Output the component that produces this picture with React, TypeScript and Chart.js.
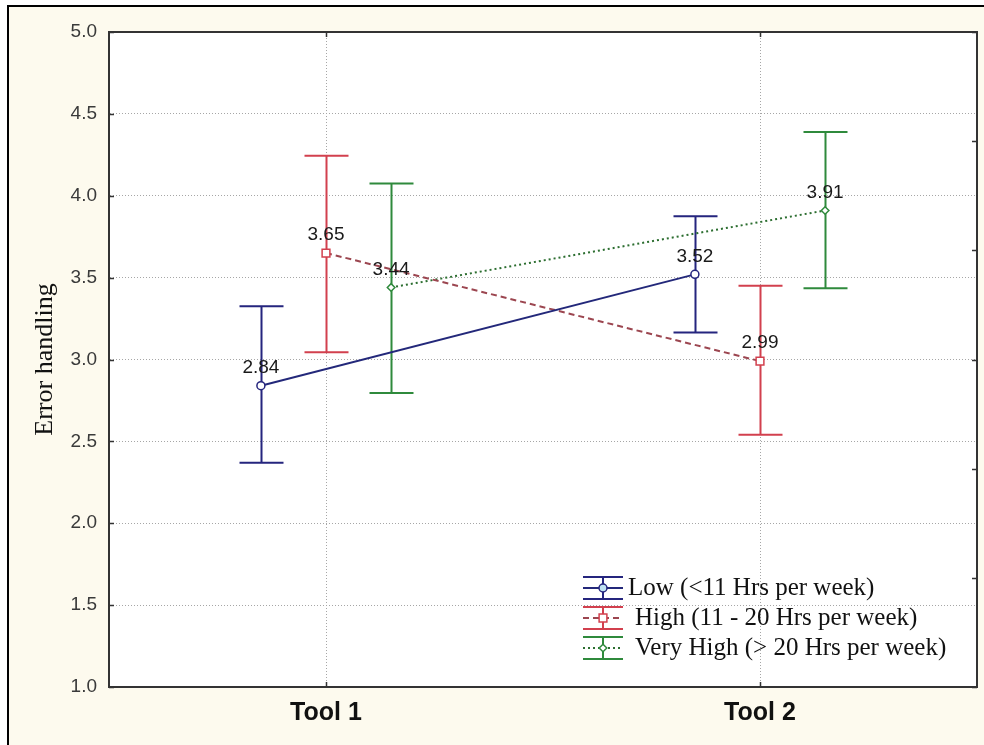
import React, { useEffect, useRef } from "react";
import { Chart, registerables } from "chart.js";

Chart.register(...registerables);

// ---- data ----
const categories = ["Tool 1", "Tool 2"];
const seriesNames = [
  "Low (<11 Hrs per week)",
  "High (11 - 20 Hrs per week)",
  "Very High (> 20 Hrs per week)",
];
const lowMeans = [2.84, 3.52];
const lowUpper = [3.325, 3.875];
const lowLower = [2.37, 3.165];
const highMeans = [3.65, 2.99];
const highUpper = [4.245, 3.45];
const highLower = [3.045, 2.54];
const veryHighMeans = [3.44, 3.91];
const veryHighUpper = [4.075, 4.39];
const veryHighLower = [2.795, 3.435];
const yMin = 1.0;
const yMax = 5.0;
const yStep = 0.5;
const yTitle = "Error handling";

// ---- styling ----
const groupOffsets = [-0.15, 0, 0.15];
const barColors = ["#25257e", "#d2404e", "#2f8a3c"];
const lineColors = ["#23287a", "#9c4650", "#2c6e30"];
const lineDashes: number[][] = [[], [6, 4], [2, 3]];
const pointStyles = ["circle", "rect", "rectRot"];
const pointRadii = [4, 5.5, 3.8];
const legendFills = ["#bfe2f2", "#ffffff", "#ffffff"];
const CAP = 22;

function makeSeries(means: number[], offset: number) {
  return means.map((m, i) => ({ x: i + 1 + offset, y: m }));
}

const frameAndBg = {
  id: "frameAndBg",
  beforeDraw(chart: any) {
    const { ctx, width, height, chartArea } = chart;
    ctx.save();
    ctx.fillStyle = "#ffffff";
    ctx.fillRect(0, 0, width, height);
    ctx.fillStyle = "#fdfaee";
    ctx.fillRect(8, 5, width - 8, height - 5);
    ctx.strokeStyle = "#000";
    ctx.lineWidth = 2;
    ctx.beginPath();
    ctx.moveTo(8, height);
    ctx.lineTo(8, 6);
    ctx.lineTo(width, 6);
    ctx.stroke();
    ctx.fillStyle = "#ffffff";
    ctx.fillRect(chartArea.left, chartArea.top, chartArea.right - chartArea.left, chartArea.bottom - chartArea.top);
    ctx.restore();
  },
};

const inwardTicks = {
  id: "inwardTicks",
  afterDraw(chart: any) {
    const { ctx, chartArea, scales } = chart;
    const L = 5;
    ctx.save();
    ctx.strokeStyle = "#333";
    ctx.lineWidth = 1.5;
    ctx.beginPath();
    scales.y.ticks.forEach((t: any) => {
      const py = Math.round(scales.y.getPixelForValue(t.value)) + 0.5;
      ctx.moveTo(chartArea.left, py);
      ctx.lineTo(chartArea.left + L, py);
    });
    scales.y2.ticks.forEach((t: any) => {
      const py = Math.round(scales.y2.getPixelForValue(t.value)) + 0.5;
      ctx.moveTo(chartArea.right, py);
      ctx.lineTo(chartArea.right - L, py);
    });
    scales.x.ticks.forEach((t: any) => {
      const px = Math.round(scales.x.getPixelForValue(t.value)) + 0.5;
      ctx.moveTo(px, chartArea.bottom);
      ctx.lineTo(px, chartArea.bottom - L);
    });
    scales.x2.ticks.forEach((t: any) => {
      const px = Math.round(scales.x2.getPixelForValue(t.value)) + 0.5;
      ctx.moveTo(px, chartArea.top);
      ctx.lineTo(px, chartArea.top + L);
    });
    ctx.stroke();
    ctx.restore();
  },
};

const errorBars = {
  id: "errorBars",
  beforeDatasetsDraw(chart: any) {
    const { ctx } = chart;
    const ys = chart.scales.y;
    chart.data.datasets.forEach((ds: any, di: number) => {
      const meta = chart.getDatasetMeta(di);
      meta.data.forEach((pt: any, i: number) => {
        const x = Math.round(pt.x) + 0.5;
        const yT = ys.getPixelForValue(ds.upper[i]);
        const yB = ys.getPixelForValue(ds.lower[i]);
        ctx.save();
        ctx.strokeStyle = ds.barColor;
        ctx.lineWidth = 2;
        ctx.beginPath();
        ctx.moveTo(x, yT);
        ctx.lineTo(x, yB);
        ctx.moveTo(x - CAP, yT);
        ctx.lineTo(x + CAP, yT);
        ctx.moveTo(x - CAP, yB);
        ctx.lineTo(x + CAP, yB);
        ctx.stroke();
        ctx.restore();
      });
    });
  },
};

const valueLabels = {
  id: "valueLabels",
  afterDatasetsDraw(chart: any) {
    const { ctx } = chart;
    ctx.save();
    ctx.font = '19px "Liberation Sans", Arial, sans-serif';
    ctx.fillStyle = "#1a1a1a";
    ctx.textAlign = "center";
    ctx.textBaseline = "middle";
    chart.data.datasets.forEach((ds: any, di: number) => {
      const meta = chart.getDatasetMeta(di);
      meta.data.forEach((pt: any, i: number) => {
        ctx.fillText(ds.data[i].y.toFixed(2), pt.x, pt.y - 18);
      });
    });
    ctx.restore();
  },
};

const customLegend = {
  id: "customLegend",
  afterDraw(chart: any) {
    const { ctx, chartArea } = chart;
    const symLeft = chartArea.right - 394;
    const symW = 40;
    const cx = symLeft + symW / 2;
    const rowY = [chartArea.bottom - 99, chartArea.bottom - 69, chartArea.bottom - 39];
    const textX = [symLeft + 45, symLeft + 52, symLeft + 52];
    chart.data.datasets.forEach((ds: any, di: number) => {
      const y = rowY[di];
      ctx.save();
      ctx.strokeStyle = barColors[di];
      ctx.lineWidth = 2;
      ctx.beginPath();
      ctx.moveTo(symLeft, y - 11);
      ctx.lineTo(symLeft + symW, y - 11);
      ctx.moveTo(symLeft, y + 11);
      ctx.lineTo(symLeft + symW, y + 11);
      ctx.moveTo(cx, y - 11);
      ctx.lineTo(cx, y + 11);
      ctx.stroke();
      ctx.strokeStyle = lineColors[di];
      ctx.setLineDash(lineDashes[di]);
      ctx.beginPath();
      ctx.moveTo(symLeft, y);
      ctx.lineTo(symLeft + symW, y);
      ctx.stroke();
      ctx.setLineDash([]);
      ctx.fillStyle = legendFills[di];
      ctx.strokeStyle = barColors[di];
      ctx.lineWidth = 1.5;
      ctx.beginPath();
      const r = pointRadii[di];
      if (pointStyles[di] === "circle") {
        ctx.arc(cx, y, r, 0, Math.PI * 2);
      } else if (pointStyles[di] === "rect") {
        const s = r * Math.SQRT1_2;
        ctx.rect(cx - s, y - s, 2 * s, 2 * s);
      } else {
        ctx.moveTo(cx, y - r);
        ctx.lineTo(cx + r, y);
        ctx.lineTo(cx, y + r);
        ctx.lineTo(cx - r, y);
        ctx.closePath();
      }
      ctx.fill();
      ctx.stroke();
      ctx.font = '25px "Liberation Serif", "Times New Roman", serif';
      ctx.fillStyle = "#111";
      ctx.textAlign = "left";
      ctx.textBaseline = "middle";
      ctx.fillText(seriesNames[di], textX[di], y);
      ctx.restore();
    });
  },
};

export default function App() {
  const ref = useRef<HTMLCanvasElement | null>(null);

  useEffect(() => {
    if (!ref.current) return;
    const means = [lowMeans, highMeans, veryHighMeans];
    const uppers = [lowUpper, highUpper, veryHighUpper];
    const lowers = [lowLower, highLower, veryHighLower];
    const datasets: any[] = means.map((m, di) => ({
      label: seriesNames[di],
      data: makeSeries(m, groupOffsets[di]),
      upper: uppers[di],
      lower: lowers[di],
      barColor: barColors[di],
      borderColor: lineColors[di],
      borderWidth: 2,
      borderDash: lineDashes[di],
      pointStyle: pointStyles[di],
      pointRadius: pointRadii[di],
      pointBackgroundColor: "#ffffff",
      pointBorderColor: barColors[di],
      pointBorderWidth: 1.5,
      fill: false,
      tension: 0,
    }));

    const catTicks = (scale: any) => {
      scale.ticks = categories.map((_, i) => ({ value: i + 1 }));
    };

    const chart = new Chart(ref.current, {
      type: "line",
      data: { datasets },
      plugins: [frameAndBg, errorBars, valueLabels, customLegend, inwardTicks],
      options: {
        animation: false,
        responsive: false,
        devicePixelRatio: 1,
        layout: { padding: 0 },
        plugins: { legend: { display: false }, tooltip: { enabled: false } },
        scales: {
          x: {
            type: "linear",
            position: "bottom",
            min: 0.5,
            max: 2.5,
            afterBuildTicks: catTicks,
            afterFit: (s: any) => { s.height = 58; },
            ticks: {
              callback: (v: any) => categories[Math.round(Number(v)) - 1] ?? "",
              font: { family: '"Liberation Sans", Arial, sans-serif', size: 25, weight: "bold" },
              color: "#111",
              padding: 11,
              maxRotation: 0,
            },
            grid: { color: "#a6a6a6", drawTicks: false, lineWidth: 1 },
            border: { display: true, color: "#333", width: 2, dash: [1, 2] },
          },
          x2: {
            type: "linear",
            position: "top",
            min: 0.5,
            max: 2.5,
            afterBuildTicks: catTicks,
            afterFit: (s: any) => { s.height = 32; },
            ticks: { display: false },
            grid: { drawOnChartArea: false, drawTicks: false },
            border: { display: true, color: "#333", width: 2 },
          },
          y: {
            type: "linear",
            position: "left",
            min: yMin,
            max: yMax,
            afterFit: (s: any) => { s.width = 109; },
            ticks: {
              stepSize: yStep,
              callback: (v: any) => Number(v).toFixed(1),
              font: { family: '"Liberation Sans", Arial, sans-serif', size: 19 },
              color: "#3a3a3a",
              padding: 12,
            },
            title: {
              display: true,
              text: yTitle,
              font: { family: '"Liberation Serif", "Times New Roman", serif', size: 26 },
              color: "#111",
              padding: { top: 30, bottom: 0 },
            },
            grid: { color: "#a6a6a6", drawTicks: false, lineWidth: 1 },
            border: { display: true, color: "#333", width: 2, dash: [1, 2] },
          },
          y2: {
            type: "linear",
            position: "right",
            min: yMin,
            max: yMax,
            afterFit: (s: any) => { s.width = 7; },
            ticks: { display: false, count: 7 },
            grid: { drawOnChartArea: false, drawTicks: false },
            border: { display: true, color: "#333", width: 2 },
          },
        },
      } as any,
    });
    return () => chart.destroy();
  }, []);

  return (
    <div style={{ position: "absolute", left: 0, top: 0, width: 984, height: 745 }}>
      <canvas ref={ref} width={984} height={745} style={{ display: "block", width: 984, height: 745 }} />
    </div>
  );
}
